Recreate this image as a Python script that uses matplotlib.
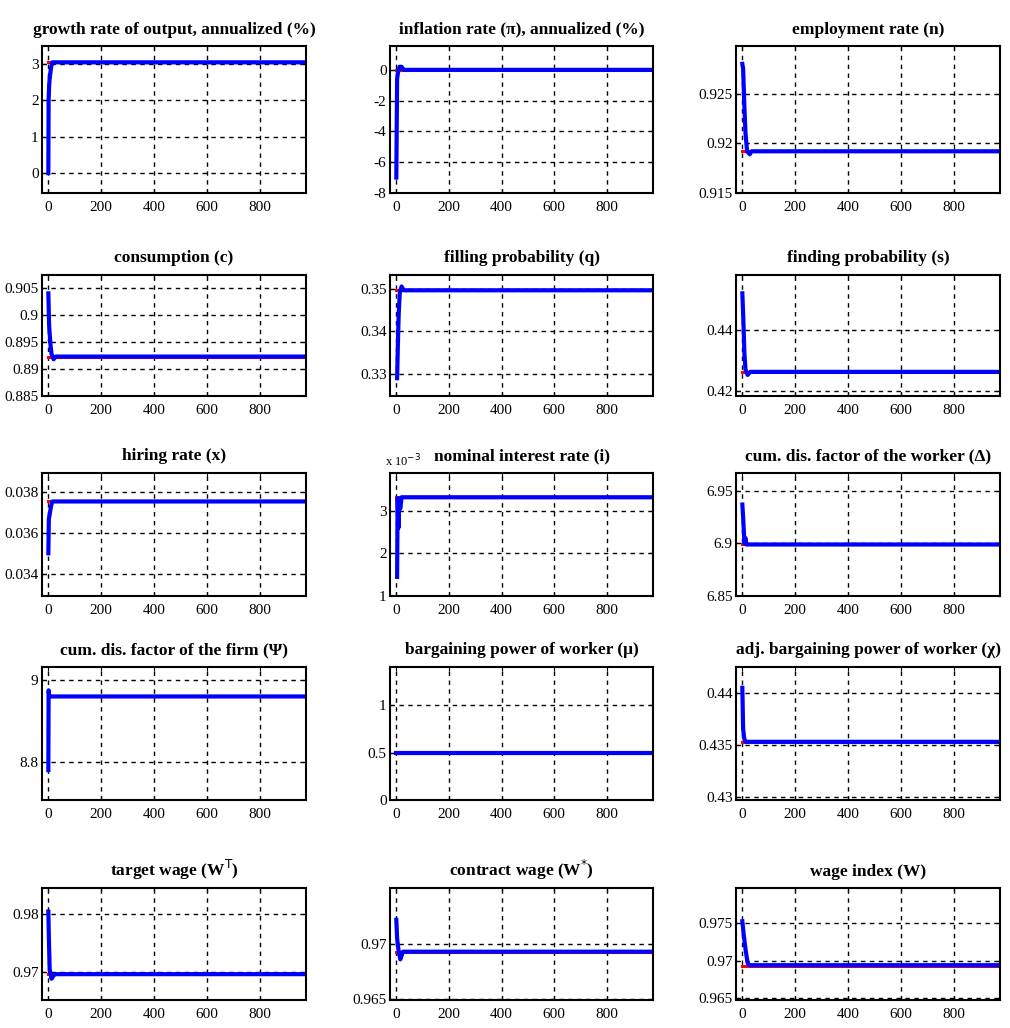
import matplotlib
matplotlib.use("Agg")
import matplotlib.pyplot as plt
from matplotlib.ticker import FuncFormatter, FixedLocator

# ---------------- data ----------------
x_ticks = [0, 200, 400, 600, 800]

t_growth = [0, 1, 3, 5, 10, 15, 1000]
growth = [0.0, 2.0, 2.4, 2.6, 2.9, 3.05, 3.05]
growth_ss = 3.07

t_infl = [0, 3, 6, 12, 20, 28, 1000]
infl = [-7.0, -0.6, -0.2, 0.2, 0.2, 0.0, 0.0]
infl_ss = 0.0

t_emp = [0, 3, 8, 12, 18, 28, 35, 1000]
emp = [0.928, 0.9275, 0.9235, 0.921, 0.9192, 0.9189, 0.9192, 0.9192]
emp_ss = 0.9192

t_cons = [0, 3, 8, 12, 20, 28, 1000]
cons = [0.904, 0.898, 0.8945, 0.8928, 0.8918, 0.8923, 0.8923]
cons_ss = 0.8923

t_fill = [3, 6, 9, 13, 20, 28, 1000]
fill = [0.329, 0.337, 0.344, 0.349, 0.3506, 0.3497, 0.3497]
fill_ss = 0.3497

t_find = [0, 4, 8, 12, 20, 30, 1000]
find = [0.452, 0.443, 0.432, 0.427, 0.4253, 0.4263, 0.4263]
find_ss = 0.4263

t_hire = [0, 2, 5, 10, 15, 1000]
hire = [0.0350, 0.0367, 0.0369, 0.0373, 0.03755, 0.03755]
hire_ss = 0.03757

t_int = [3, 5, 8, 11, 15, 20, 1000]
interest = [1.45e-3, 3.3e-3, 2.6e-3, 3.25e-3, 3.05e-3, 3.32e-3, 3.32e-3]
interest_ss = 3.32e-3

t_dw = [0, 3, 6, 8, 12, 15, 1000]
delta_w = [6.937, 6.925, 6.91, 6.900, 6.905, 6.899, 6.899]
delta_w_ss = 6.899

t_df = [0, 1, 4, 1000]
psi_f = [8.78, 8.975, 8.96, 8.96]
psi_f_ss = 8.96

t_mu = [0, 1000]
mu = [0.5, 0.5]
mu_ss = 0.5

t_chi = [0, 3, 8, 12, 1000]
chi = [0.4405, 0.4365, 0.4355, 0.4353, 0.4353]
chi_ss = 0.4353

t_wt = [0, 2, 5, 12, 20, 28, 1000]
wage_t = [0.9805, 0.976, 0.9705, 0.9688, 0.9694, 0.9696, 0.9696]
wage_t_ss = 0.9697

t_wc = [0, 3, 8, 15, 25, 1000]
wage_c = [0.9722, 0.9705, 0.9695, 0.9686, 0.9693, 0.9693]
wage_c_ss = 0.9693

t_wi = [0, 5, 12, 20, 25, 1000]
wage_i = [0.9752, 0.9735, 0.9715, 0.9697, 0.9694, 0.9694]
wage_i_ss = 0.9693

titles = [
    "growth rate of output, annualized (%)",
    "inflation rate (π), annualized (%)",
    "employment rate (n)",
    "consumption (c)",
    "filling probability (q)",
    "finding probability (s)",
    "hiring rate (x)",
    "nominal interest rate (i)",
    "cum. dis. factor of the worker (Δ)",
    "cum. dis. factor of the firm (Ψ)",
    "bargaining power of worker (μ)",
    "adj. bargaining power of worker (χ)",
    r"target wage (W$^{\mathrm{T}}$)",
    r"contract wage (W$^{*}$)",
    "wage index (W)",
]

y_ticks = [
    [0, 1, 2, 3],
    [-8, -6, -4, -2, 0],
    [0.915, 0.92, 0.925],
    [0.885, 0.89, 0.895, 0.9, 0.905],
    [0.33, 0.34, 0.35],
    [0.42, 0.44],
    [0.034, 0.036, 0.038],
    [1e-3, 2e-3, 3e-3],
    [6.85, 6.9, 6.95],
    [8.8, 9.0],
    [0, 0.5, 1],
    [0.43, 0.435, 0.44],
    [0.97, 0.98],
    [0.965, 0.97],
    [0.965, 0.97, 0.975],
]

y_limits = [
    (-0.55, 3.5),
    (-8, 1.55),
    (0.915, 0.9298),
    (0.885, 0.9074),
    (0.3248, 0.3533),
    (0.4184, 0.458),
    (0.0329, 0.03895),
    (1e-3, 3.89e-3),
    (6.85, 6.967),
    (8.707, 9.032),
    (0, 1.4),
    (0.4297, 0.4425),
    (0.9651, 0.9846),
    (0.9649, 0.9751),
    (0.9648, 0.9796),
]

series = [
    (t_growth, growth, growth_ss), (t_infl, infl, infl_ss), (t_emp, emp, emp_ss),
    (t_cons, cons, cons_ss), (t_fill, fill, fill_ss), (t_find, find, find_ss),
    (t_hire, hire, hire_ss), (t_int, interest, interest_ss), (t_dw, delta_w, delta_w_ss),
    (t_df, psi_f, psi_f_ss), (t_mu, mu, mu_ss), (t_chi, chi, chi_ss),
    (t_wt, wage_t, wage_t_ss), (t_wc, wage_c, wage_c_ss), (t_wi, wage_i, wage_i_ss),
]

# ---------------- layout ----------------
W, H = 1010, 1028
fig = plt.figure(figsize=(W / 100, H / 100), dpi=100)
fig.patch.set_facecolor("white")

col_lr = [(42, 306), (390, 653), (736, 1000)]
row_tb = [(46, 193), (275, 396), (473, 596), (667, 800), (888, 1000)]

serif = ["Liberation Serif", "DejaVu Serif"]

for k in range(15):
    r, c = divmod(k, 3)
    l, rr = col_lr[c]
    t, b = row_tb[r]
    ax = fig.add_axes([l / W, 1 - b / H, (rr - l) / W, (b - t) / H])
    tx, ty, ss = series[k]
    ax.plot([0, 1000], [ss, ss], color="#ff0000", lw=2.2, zorder=3)
    ax.plot(tx, ty, color="#0000ff", lw=3.0, zorder=4, solid_joinstyle="round")
    ax.set_xlim(-24, 975)
    ax.set_ylim(*y_limits[k])
    ax.xaxis.set_major_locator(FixedLocator(x_ticks))
    ax.yaxis.set_major_locator(FixedLocator(y_ticks[k]))
    if k == 7:
        ax.yaxis.set_major_formatter(FuncFormatter(lambda v, p: "%g" % round(v * 1e3, 6)))
        ax.text(-0.02, 1.03, r"x 10$^{-3}$", transform=ax.transAxes, ha="left",
                va="bottom", fontsize=9, family=serif)
    else:
        ax.yaxis.set_major_formatter(FuncFormatter(lambda v, p: "%g" % round(v, 6)))
    ax.grid(True, color="black", linestyle=(0, (3.2, 3.2)), linewidth=1.0, zorder=1)
    ax.tick_params(direction="in", length=3, width=0.8, top=True, right=True,
                   labelsize=11, colors="black")
    ax.tick_params(axis="x", pad=6)
    ax.tick_params(axis="y", pad=2.5)
    for lab in ax.get_xticklabels() + ax.get_yticklabels():
        lab.set_family(serif)
    for s in ax.spines.values():
        s.set_linewidth(1.5)
        s.set_color("black")
        s.set_zorder(5)
    ax.set_title(titles[k], fontsize=12.5, fontweight="bold", family=serif, pad=9)

fig.savefig("out.png", dpi=100, facecolor="white")
